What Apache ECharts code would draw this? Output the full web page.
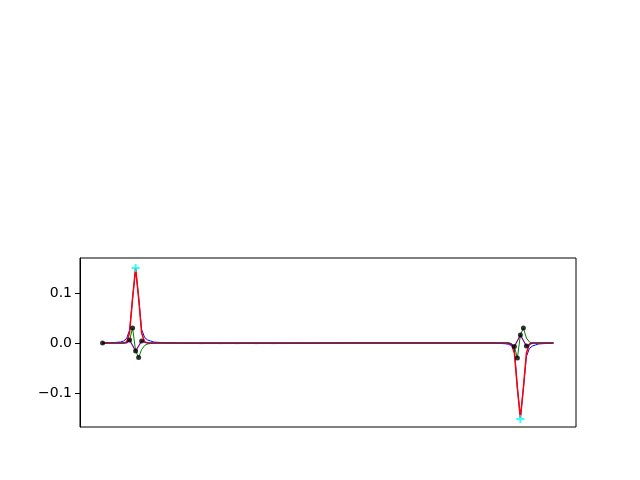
<!DOCTYPE html>
<html>
<head>
<meta charset="utf-8">
<script src="https://cdn.jsdelivr.net/npm/echarts@6/dist/echarts.min.js"></script>
<style>html,body{margin:0;padding:0;background:#fff;}#c{width:640px;height:480px;}</style>
</head>
<body>
<div id="c"></div>
<script>
// Series values as [x, y] pairs (x = sample index 0..150)
const blueData = [[0,0],[2,0.0005],[4,0.001],[5,0.0015],[6,0.002],[7,0.004],[8,0.009],[9,0.026],[10,0.09],[11,0.148],[12,0.092],[13,0.027],[14,0.011],[15,0.006],[16,0.004],[17,0.002],[18,0.0015],[20,0.0008],[22,0],
  [26,-0.0006],[30,-0.0009],[33,-0.0012],[36,-0.0007],[39,-0.0012],[42,-0.0009],[45,-0.0012],[48,-0.0007],[51,-0.0012],[54,-0.0009],[57,-0.0012],[60,-0.0007],[63,-0.001],[66,-0.0008],[69,-0.001],[72,-0.0006],[76,-0.0004],[82,0],[130,0],
  [132,-0.0008],[134,-0.0015],[135,-0.0025],[136,-0.005],[137,-0.012],[138,-0.09],[139,-0.15],[140,-0.09],[141,-0.027],[142,-0.011],[143,-0.006],[144,-0.004],[145,-0.002],[146,-0.0015],[148,-0.0008],[150,0]];
const redData = [[0,0],[7,0],[8,0.002],[9,0.02],[10,0.09],[11,0.15],[12,0.09],[13,0.02],[14,0.002],[15,0],[135,0],[136,-0.002],[137,-0.02],[138,-0.09],[139,-0.15],[140,-0.09],[141,-0.02],[142,-0.002],[143,0],[150,0]];
const greenData = [[0,0],[7,0],[8,0.001],[9,0.006],[10,0.03],[11,-0.016],[12,-0.029],[13,-0.013],[14,-0.005],[15,-0.002],[16,-0.001],[18,0],[135,0],[136,-0.001],[137,-0.007],[138,-0.03],[139,0.016],[140,0.03],[141,0.01],[142,0.002],[143,0],[150,0]];
const purpleData = [[0,0],[8,0],[9,0.006],[11,-0.016],[13,0.004],[15,0],[135,0],[137,-0.007],[139,0.016],[141,-0.006],[143,0],[150,0]];
const dotData = [[0,0],[9,0.006],[10,0.03],[11,-0.016],[12,-0.029],[13,0.004],[137,-0.007],[138,-0.03],[139,0.016],[140,0.03],[141,-0.006]];
const peakData = [[11,0.15],[139,-0.152]];
const yTicks = [-0.1, 0, 0.1];
const yTickLabels = ['\u22120.1', '0.0', '0.1'];

const chart = echarts.init(document.getElementById('c'), null, {renderer: 'canvas'});
const lineBase = {type: 'line', showSymbol: false, symbol: 'none', animation: false};
chart.setOption({
  animation: false,
  grid: {left: 80, right: 64, top: 258, bottom: 53, show: true, borderColor: '#000', borderWidth: 1, backgroundColor: 'transparent'},
  xAxis: {type: 'value', min: -7.5, max: 157.5, axisLine: {show: false, onZero: false}, axisTick: {show: false}, axisLabel: {show: false}, splitLine: {show: false}},
  yAxis: {type: 'value', min: -0.168, max: 0.17,
    axisLine: {show: true, onZero: false, lineStyle: {color: '#000', width: 1}},
    splitLine: {show: false},
    axisTick: {show: true, inside: false, length: 5, lineStyle: {color: '#000', width: 1}, customValues: yTicks},
    axisLabel: {show: true, margin: 8, color: '#000', fontFamily: 'DejaVu Sans', fontSize: 14, customValues: yTicks,
      formatter: function (v) { const i = yTicks.findIndex(t => Math.abs(t - v) < 1e-9); return i >= 0 ? yTickLabels[i] : ''; }}
  },
  series: [
    Object.assign({}, lineBase, {data: blueData, lineStyle: {color: '#0000ff', width: 1}, z: 1}),
    Object.assign({}, lineBase, {data: redData, lineStyle: {color: '#ff0000', width: 1.5}, z: 2}),
    Object.assign({}, lineBase, {data: greenData, lineStyle: {color: '#008000', width: 1}, z: 3}),
    Object.assign({}, lineBase, {data: purpleData, lineStyle: {color: '#800080', width: 1.2}, z: 4}),
    {type: 'scatter', data: dotData, symbol: 'circle', symbolSize: 5, itemStyle: {color: '#000'}, z: 5, animation: false},
    {type: 'scatter', data: peakData, symbol: 'path://M3,0h2v8h-2zM0,3h8v2h-8z', symbolSize: 8, itemStyle: {color: '#00ffff'}, z: 6, animation: false}
  ]
});
</script>
</body>
</html>
